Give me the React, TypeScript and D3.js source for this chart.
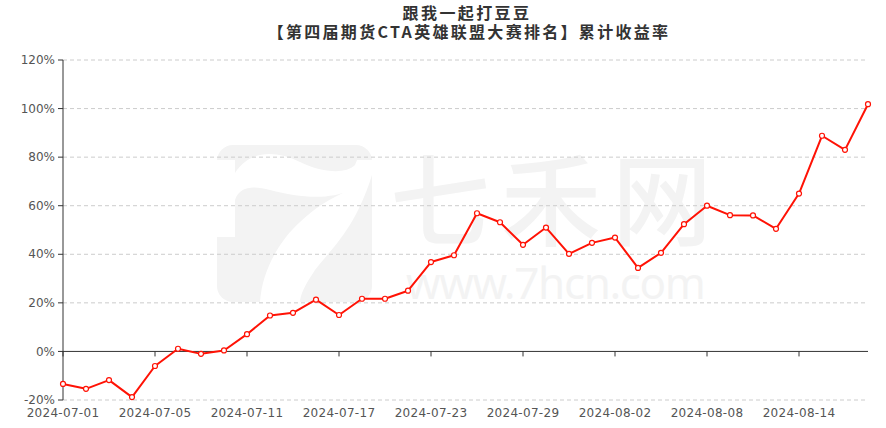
import React from "react";
import * as d3 from "d3";

const dates = [
  "2024-07-01","2024-07-02","2024-07-03","2024-07-04","2024-07-05",
  "2024-07-08","2024-07-09","2024-07-10","2024-07-11","2024-07-12",
  "2024-07-15","2024-07-16","2024-07-17","2024-07-18","2024-07-19",
  "2024-07-22","2024-07-23","2024-07-24","2024-07-25","2024-07-26",
  "2024-07-29","2024-07-30","2024-07-31","2024-08-01","2024-08-02",
  "2024-08-05","2024-08-06","2024-08-07","2024-08-08","2024-08-09",
  "2024-08-12","2024-08-13","2024-08-14","2024-08-15","2024-08-16",
  "2024-08-19",
];
const cumReturn = [
  -13.4, -15.4, -11.8, -18.8, -6.0, 1.1, -1.0, 0.4, 7.1, 14.8,
  15.9, 21.3, 15.0, 21.7, 21.7, 25.0, 36.8, 39.6, 56.9, 53.2,
  43.9, 51.0, 40.2, 44.7, 46.9, 34.4, 40.6, 52.4, 60.0, 56.1,
  56.0, 50.5, 65.0, 88.8, 83.0, 101.8,
];
const yTicks = [-20, 0, 20, 40, 60, 80, 100, 120];
const xLabelDates = ["2024-07-01","2024-07-05","2024-07-11","2024-07-17","2024-07-23","2024-07-29","2024-08-02","2024-08-08","2024-08-14"];
const titleLine1 = "跟我一起打豆豆";
const titleLine2 = "【第四届期货CTA英雄联盟大赛排名】累计收益率";

const W = 886, H = 428;
const left = 63, right = 868, top = 60, bottom = 400;
const RED = "#ff1205";
const font = "'DejaVu Sans', sans-serif";

export default function App() {
  const x = d3.scalePoint<string>().domain(dates).range([left, right]);
  const y = d3.scaleLinear().domain([-20, 120]).range([bottom, top]);
  const pts = dates.map((d, i) => ({ d, v: cumReturn[i] }));
  const line = d3.line<{ d: string; v: number }>().x(p => x(p.d)!).y(p => y(p.v));
  const wm = "#f3f3f3";
  return (
    <svg width={W} height={H} style={{ position: "fixed", left: 0, top: 0, background: "#fff" }}>
      <rect width={W} height={H} fill="#fff" />
      {/* watermark */}
      <g>
        <rect x={217} y={145} width={155} height={157} rx={16} fill={wm} />
        <path d="M217,160 L235,160 L235,173 C250,150 275,150 300,162 C320,172 345,175 355,165 L357,160 L372,160 L372,175 C355,230 330,250 315,270 C305,285 300,295 300,302 L260,302 C262,270 280,240 300,222 C315,208 330,198 350,190 C330,200 300,198 270,190 C255,186 240,185 235,200 L235,237 L217,237 Z" fill="#fff" />
        <text x={390} y={238} fontFamily="'Noto Sans CJK SC', sans-serif" fontWeight={500} fontSize={100} fill={wm} textLength={322}>七禾网</text>
        <text x={406} y={299} fontFamily="'Noto Sans', sans-serif" fontSize={44} fill={wm} textLength={300} lengthAdjust="spacing">www.7hcn.com</text>
      </g>
      {/* grid */}
      {yTicks.filter(t => t !== 0).map(t => (
        <line key={t} x1={left} x2={right} y1={y(t)} y2={y(t)} stroke="#cccccc" strokeWidth={1} strokeDasharray="4,3" />
      ))}
      {/* y axis */}
      <line x1={left} x2={left} y1={top} y2={bottom} stroke="#333" strokeWidth={1} />
      {yTicks.map(t => (
        <g key={t}>
          <line x1={left - 5} x2={left} y1={y(t)} y2={y(t)} stroke="#333" />
          <text x={left - 8} y={y(t)} dy="0.35em" textAnchor="end" fontFamily={font} fontSize={12} fill="#555">{t}%</text>
        </g>
      ))}
      {/* x axis at zero */}
      <line x1={left} x2={right} y1={y(0)} y2={y(0)} stroke="#333" strokeWidth={1} />
      {xLabelDates.map(d => (
        <g key={d}>
          <line x1={x(d)} x2={x(d)} y1={y(0)} y2={y(0) + 5} stroke="#333" />
          <text x={x(d)} y={416.5} textAnchor="middle" fontFamily={font} fontSize={12} fill="#555" letterSpacing={0.3}>{d}</text>
        </g>
      ))}
      {/* series */}
      <path d={line(pts)!} fill="none" stroke={RED} strokeWidth={2} strokeLinejoin="round" />
      {pts.map(p => (
        <circle key={p.d} cx={x(p.d)} cy={y(p.v)} r={2.5} fill="#fff" stroke={RED} strokeWidth={1.2} />
      ))}
      {/* title */}
      <text x={467} y={19} textAnchor="middle" fontFamily="'Noto Sans CJK SC', sans-serif" fontWeight="bold" fontSize={16} fill="#333" letterSpacing={2.4}>{titleLine1}</text>
      <text x={469} y={37.5} textAnchor="middle" fontFamily="'Noto Sans CJK SC', sans-serif" fontWeight="bold" fontSize={16} fill="#333" letterSpacing={2.3}>{titleLine2}</text>
    </svg>
  );
}
